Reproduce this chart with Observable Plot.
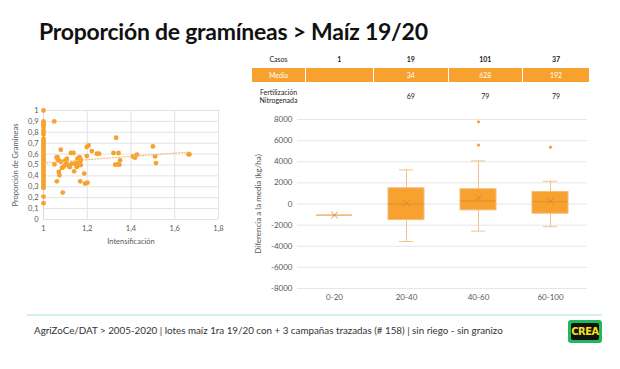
<!DOCTYPE html>
<html><head><meta charset="utf-8">
<script src="https://cdn.jsdelivr.net/npm/d3@7"></script>
<script src="https://cdn.jsdelivr.net/npm/@observablehq/plot@0.6"></script>
<style>
body{margin:0;background:#fff;font-family:Lato,"Open Sans",sans-serif;}
#slide{position:relative;width:620px;height:369px;overflow:hidden;background:#fff;}
#title{position:absolute;left:39px;top:17px;font-size:23px;font-weight:700;color:#111;white-space:nowrap;letter-spacing:-0.25px;}
#scatter{position:absolute;left:0;top:100px;}
#box{position:absolute;left:240px;top:110px;}
.cell{position:absolute;font-size:7px;color:#222;text-align:center;line-height:8px;}
.orange{background:#f7a12e;color:#fff;}
#rule{position:absolute;left:27px;top:314px;width:575px;height:2px;background:#d3f1e9;}
#foot{position:absolute;left:34px;top:324px;font-size:9.8px;color:#333;white-space:nowrap;}
#logo{position:absolute;left:568px;top:320px;width:34px;height:23px;background:#1fb85a;border-radius:3px;}
#logo div{position:absolute;left:3px;top:3px;right:3px;bottom:3px;background:#111;border-radius:2px;color:#f5e31a;font-weight:900;font-size:11px;line-height:17px;text-align:center;font-family:"DejaVu Sans Condensed","Liberation Sans Narrow",sans-serif;letter-spacing:-0.5px;}
</style></head><body>
<div id="slide">
  <div id="title">Proporción de gramíneas &gt; Maíz 19/20</div>
  <div id="scatter"></div>
  <div id="table"></div>
  <div id="box"></div>
  <div id="rule"></div>
  <div id="foot">AgriZoCe/DAT &gt; 2005-2020 | lotes maíz 1ra 19/20 con + 3 campañas trazadas (# 158) | sin riego - sin granizo</div>
  <div id="logo"><div>CREA</div></div>
</div>
<script>
// ---- Scatter data: Intensificación vs Proporción de Gramíneas ----
const intensif = [
  1,1,1,1,1,1,1,1,1,1,1,1,1,1,1,1,1,1,1,1,1,1,1,1,1,1,1,1,1,1,1,1,1,1,1,
  1.049,1.05,1.061,1.064,1.069,1.07,1.073,1.079,1.084,1.088,1.091,1.099,1.107,1.114,
  1.125,1.137,1.13,1.14,1.149,1.155,1.16,1.165,1.168,1.152,1.168,1.186,1.19,1.201,
  1.198,1.198,1.206,1.221,1.244,1.254,1.32,1.332,1.328,1.338,1.343,1.35,1.347,
  1.408,1.418,1.427,1.5,1.51,1.514,1.663,1.667,
  1.06,1.15,1.16,1.12,1.1,1.08,1.17,1.17,1.065,1.105
];
const propGram = [
  1,0.9,0.88,0.87,0.85,0.82,0.8,0.78,0.74,0.72,0.7,0.68,0.66,0.64,0.62,0.6,0.58,0.56,0.54,0.52,0.5,0.48,0.46,0.44,0.42,0.4,0.38,0.36,0.34,0.32,0.3,0.29,0.21,0.15,0.55,
  0.9,0.506,0.35,0.573,0.543,0.436,0.405,0.64,0.473,0.247,0.482,0.543,0.558,0.497,
  0.61,0.61,0.512,0.442,0.518,0.558,0.497,0.573,0.534,0.482,0.35,0.421,0.33,0.338,
  0.582,0.665,0.68,0.628,0.604,0.604,0.61,0.75,0.503,0.506,0.61,0.543,0.503,
  0.579,0.567,0.595,0.67,0.579,0.518,0.598,0.598,
  0.57,0.5,0.56,0.48,0.5,0.53,0.55,0.5,0.55,0.52
];
const scatterXTicks = [1, 1.2, 1.4, 1.6, 1.8];
const scatterYTicks = [0, 0.1, 0.2, 0.3, 0.4, 0.5, 0.6, 0.7, 0.8, 0.9, 1];
// trend line (Excel linear trend)
const trendX = [1, 1.667];
const trendY = [0.518, 0.619];

// ---- Box plot data: Diferencia a la media (kg/ha) by gramíneas class ----
const categories = ["0-20", "20-40", "40-60", "60-100"];
const q1 = [-1050, -1520, -600, -920];
const q3 = [-1050, 1490, 1400, 1140];
const medians = [-1050, 0, 300, 220];
const means = [-1050, 60, 570, 250];
const whiskLo = [-1050, -3550, -2570, -2150];
const whiskHi = [-1050, 3230, 4080, 2150];
const outlierCat = ["40-60", "40-60", "60-100"];
const outlierVal = [7780, 5580, 5380];
const boxYTicks = [-8000, -6000, -4000, -2000, 0, 2000, 4000, 6000, 8000];

// ---- Table data ----
const rowLabels = ["Casos", "Media", "Fertilización<br>Nitrogenada"];
const casos = [1, 19, 101, 37];
const media = ["", 34, 628, 192];
const fertN = ["", 69, 79, 79];

const fmtComma = d => String(+d.toFixed(1)).replace(".", ",");
const orange = "#f7a12e";

// Scatter
const scatterData = intensif.map((x, i) => ({x, y: propGram[i]}));
const trendData = trendX.map((x, i) => ({x, y: trendY[i]}));
const sc = Plot.plot({
  width: 235, height: 150,
  marginLeft: 43, marginRight: 17, marginTop: 10, marginBottom: 31,
  style: {fontFamily: "Lato, sans-serif", fontSize: "7.5px", color: "#595959", background: "transparent"},
  x: {domain: [1, 1.8], ticks: scatterXTicks, tickFormat: fmtComma, tickSize: 0, tickPadding: 6,
      label: "Intensificación", labelAnchor: "center", labelOffset: 24, labelArrow: "none"},
  y: {domain: [0, 1], ticks: scatterYTicks, tickFormat: fmtComma, tickSize: 0, tickPadding: 5,
      label: "Proporción de Gramíneas", labelAnchor: "center", labelOffset: 31, labelArrow: "none"},
  marks: [
    Plot.ruleY(scatterYTicks, {stroke: "#e3e3e3"}),
    Plot.ruleX(scatterXTicks.slice(1), {stroke: "#e3e3e3"}),
    Plot.ruleX([1], {stroke: "#d9d9d9"}),
    Plot.dot(scatterData, {x: "x", y: "y", r: 2.4, fill: orange, stroke: "none"}),
    Plot.line(trendData, {x: "x", y: "y", stroke: "#f7b86a", strokeWidth: 1, strokeDasharray: "1.5,1.5"})
  ]
});
document.getElementById("scatter").appendChild(sc);

// Box plot
const boxData = categories.map((c, i) => ({c, q1: q1[i], q3: q3[i], med: medians[i], mean: means[i], lo: whiskLo[i], hi: whiskHi[i]}));
const withWhisk = boxData.filter(d => d.hi !== d.q3 || d.lo !== d.q1);
const outData = outlierCat.map((c, i) => ({c, v: outlierVal[i]}));
const bx = Plot.plot({
  width: 360, height: 200,
  marginLeft: 57, marginRight: 13, marginTop: 9, marginBottom: 22,
  style: {fontFamily: "Lato, sans-serif", fontSize: "8px", color: "#595959", background: "transparent"},
  x: {domain: categories, padding: 0, tickSize: 0, tickPadding: 6, label: null},
  y: {domain: [-8000, 8000], ticks: boxYTicks, tickSize: 0, tickPadding: 5, tickFormat: d => String(d),
      label: "Diferencia a la media (kg/ha)", labelAnchor: "center", labelOffset: 42, labelArrow: "none"},
  marks: [
    Plot.ruleY(boxYTicks, {stroke: "#e6e6e6"}),
    Plot.ruleX(withWhisk, {x: "c", y1: "q3", y2: "hi", stroke: "#f2c28a", strokeWidth: 1}),
    Plot.ruleX(withWhisk, {x: "c", y1: "lo", y2: "q1", stroke: "#f2c28a", strokeWidth: 1}),
    Plot.tickY(withWhisk, {x: "c", y: "hi", stroke: "#f2c28a", inset: 29}),
    Plot.tickY(withWhisk, {x: "c", y: "lo", stroke: "#f2c28a", inset: 29}),
    Plot.rectY(boxData, {x: "c", y1: "q1", y2: "q3", fill: orange, stroke: "#f6bd78", strokeWidth: 1, insetLeft: 18, insetRight: 18}),
    Plot.tickY(boxData, {x: "c", y: "med", stroke: "#e0902a", strokeWidth: 1, inset: 18}),
    Plot.dot(boxData, {x: "c", y: "mean", symbol: "times", r: 3, stroke: "#d98a36", strokeWidth: 1}),
    Plot.dot(outData, {x: "c", y: "v", r: 1.6, fill: orange, stroke: "none"})
  ]
});
document.getElementById("box").appendChild(bx);

// Table
const colLeft = [252, 306, 374, 449, 523];
const colRight = [305, 372.7, 447.7, 521.7, 589];
const table = document.getElementById("table");
function cell(text, col, top, h, cls, bold) {
  const d = document.createElement("div");
  d.className = "cell" + (cls ? " " + cls : "");
  d.style.left = colLeft[col] + "px";
  d.style.width = (colRight[col] - colLeft[col]) + "px";
  d.style.top = top + "px";
  d.style.height = h + "px";
  d.style.display = "flex"; d.style.alignItems = "center"; d.style.justifyContent = "center";
  if (bold) d.style.fontWeight = "700";
  d.innerHTML = text;
  table.appendChild(d);
}
cell(rowLabels[0], 0, 54, 10, "", false);
casos.forEach((v, i) => cell(String(v), i + 1, 54, 10, "", true));
cell(rowLabels[1], 0, 68, 14, "orange", false);
media.forEach((v, i) => cell(String(v), i + 1, 68, 14, "orange", false));
cell(rowLabels[2], 0, 86, 19, "", false);
fertN.forEach((v, i) => cell(String(v), i + 1, 86, 19, "", false));
</script>
</body></html>
